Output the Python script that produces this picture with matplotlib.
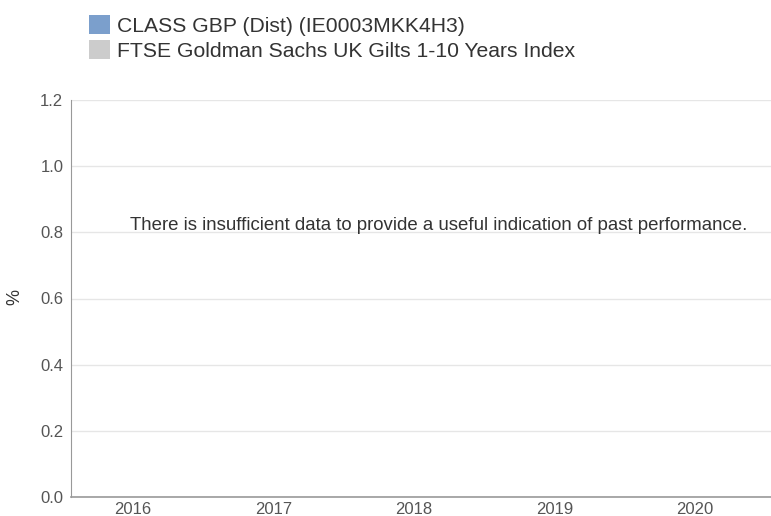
import matplotlib
matplotlib.use("Agg")
import matplotlib.pyplot as plt
from matplotlib.patches import Patch
import numpy as np

plt.rcParams['font.family'] = ['Liberation Sans', 'DejaVu Sans']

categories = ["2016", "2017", "2018", "2019", "2020"]
series_names = ["CLASS GBP (Dist) (IE0003MKK4H3)",
                "FTSE Goldman Sachs UK Gilts 1-10 Years Index"]
series_colors = ["#7b9fcc", "#cccccc"]
series_values = [[], []]
y_ticks = [0.0, 0.2, 0.4, 0.6, 0.8, 1.0, 1.2]
message = "There is insufficient data to provide a useful indication of past performance."

W, H = 771, 516
fig = plt.figure(figsize=(W / 100, H / 100), dpi=100)
left, right, bottom, top = 71, 771, 497, 100
ax = fig.add_axes([left / W, 1 - bottom / H, (right - left) / W, (bottom - top) / H])

x = np.arange(len(categories))
for name, color, vals in zip(series_names, series_colors, series_values):
    ax.bar(x[:len(vals)], vals, color=color, label=name)
handles = [Patch(facecolor=c, edgecolor='none') for c in series_colors]

ax.set_xlim(-0.441, 4.54)
ax.set_ylim(0, 1.2)
ax.set_xticks(x)
ax.set_xticklabels(categories)
ax.set_yticks(y_ticks)
ax.set_yticklabels([f"{v:.1f}" for v in y_ticks])
ax.tick_params(axis='both', length=0, labelsize=12, colors='#555555')
ax.tick_params(axis='y', pad=5.5)
ax.tick_params(axis='x', pad=3.5)
ax.grid(axis='y', color='#e6e6e6', linewidth=1)
ax.set_axisbelow(True)
for s in ['top', 'right']:
    ax.spines[s].set_visible(False)
ax.spines['left'].set_color('#999999')
ax.spines['bottom'].set_color('#999999')
ax.spines['bottom'].set_linewidth(1.2)

fig.text(15 / W, 1 - 297 / H, "%", rotation=90, ha='center', va='center',
         fontsize=13, color='#333333')

fig.text(439 / W, 1 - 226 / H, message,
         ha='center', va='center', fontsize=13.4, color='#333333')

leg = fig.legend(handles=handles, labels=series_names, loc='upper left',
                 bbox_to_anchor=(89 / W, 1 - 15 / H), frameon=False,
                 fontsize=15.2, handlelength=1.0, handleheight=1.0,
                 handletextpad=0.33, labelspacing=0.2, borderaxespad=0,
                 borderpad=0, labelcolor='#333333')

fig.savefig("out.png", dpi=100)
